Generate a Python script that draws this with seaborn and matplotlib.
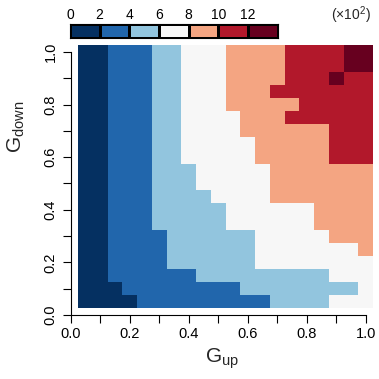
import numpy as np
import pandas as pd
import matplotlib
matplotlib.use("Agg")
import matplotlib.pyplot as plt
from matplotlib.colors import ListedColormap
import seaborn as sns

# ---- data (values in units of 10^2) ----
g_up = [0.05, 0.10, 0.15, 0.20, 0.25, 0.30, 0.35, 0.40, 0.45, 0.50,
        0.55, 0.60, 0.65, 0.70, 0.75, 0.80, 0.85, 0.90, 0.95, 1.00]
# rows from Gdown = 1.00 (top) down to Gdown = 0.05 (bottom)
g_down = [1.00, 0.95, 0.90, 0.85, 0.80, 0.75, 0.70, 0.65, 0.60, 0.55,
          0.50, 0.45, 0.40, 0.35, 0.30, 0.25, 0.20, 0.15, 0.10, 0.05]
values = [
    [1, 1, 3, 3, 3, 5, 5, 7, 7, 7, 9, 9, 9, 9, 11, 11, 11, 11, 13, 13],
    [1, 1, 3, 3, 3, 5, 5, 7, 7, 7, 9, 9, 9, 9, 11, 11, 11, 11, 13, 13],
    [1, 1, 3, 3, 3, 5, 5, 7, 7, 7, 9, 9, 9, 9, 11, 11, 11, 13, 11, 11],
    [1, 1, 3, 3, 3, 5, 5, 7, 7, 7, 9, 9, 9, 11, 11, 11, 11, 11, 11, 11],
    [1, 1, 3, 3, 3, 5, 5, 7, 7, 7, 9, 9, 9, 9, 9, 11, 11, 11, 11, 11],
    [1, 1, 3, 3, 3, 5, 5, 7, 7, 7, 7, 9, 9, 9, 11, 11, 11, 11, 11, 11],
    [1, 1, 3, 3, 3, 5, 5, 7, 7, 7, 7, 9, 9, 9, 9, 9, 9, 11, 11, 11],
    [1, 1, 3, 3, 3, 5, 5, 7, 7, 7, 7, 7, 9, 9, 9, 9, 9, 11, 11, 11],
    [1, 1, 3, 3, 3, 5, 5, 7, 7, 7, 7, 7, 9, 9, 9, 9, 9, 11, 11, 11],
    [1, 1, 3, 3, 3, 5, 5, 5, 7, 7, 7, 7, 7, 9, 9, 9, 9, 9, 9, 9],
    [1, 1, 3, 3, 3, 5, 5, 5, 7, 7, 7, 7, 7, 9, 9, 9, 9, 9, 9, 9],
    [1, 1, 3, 3, 3, 5, 5, 5, 5, 7, 7, 7, 7, 9, 9, 9, 9, 9, 9, 9],
    [1, 1, 3, 3, 3, 5, 5, 5, 5, 5, 7, 7, 7, 7, 7, 7, 9, 9, 9, 9],
    [1, 1, 3, 3, 3, 5, 5, 5, 5, 5, 7, 7, 7, 7, 7, 7, 9, 9, 9, 9],
    [1, 1, 3, 3, 3, 3, 5, 5, 5, 5, 5, 5, 7, 7, 7, 7, 7, 9, 9, 9],
    [1, 1, 3, 3, 3, 3, 5, 5, 5, 5, 5, 5, 7, 7, 7, 7, 7, 7, 7, 9],
    [1, 1, 3, 3, 3, 3, 5, 5, 5, 5, 5, 5, 7, 7, 7, 7, 7, 7, 7, 7],
    [1, 1, 3, 3, 3, 3, 3, 3, 5, 5, 5, 5, 5, 5, 5, 5, 5, 7, 7, 7],
    [1, 1, 1, 3, 3, 3, 3, 3, 3, 3, 3, 5, 5, 5, 5, 5, 5, 5, 5, 7],
    [1, 1, 1, 1, 3, 3, 3, 3, 3, 3, 3, 3, 3, 5, 5, 5, 5, 7, 7, 7],
]
level_mid = [1, 3, 5, 7, 9, 11, 13]
level_labels = ["0", "2", "4", "6", "8", "10", "12"]
axis_ticks = [0.0, 0.1, 0.2, 0.3, 0.4, 0.5, 0.6, 0.7, 0.8, 0.9, 1.0]
axis_labels = ["0.0", "", "0.2", "", "0.4", "", "0.6", "", "0.8", "", "1.0"]
colors = ["#053061", "#2166ac", "#92c5de", "#f7f7f7", "#f4a582", "#b2182b", "#67001f"]

sns.set_theme(style="white")
plt.rcParams["font.family"] = ["Liberation Sans", "DejaVu Sans"]
plt.rcParams["mathtext.default"] = "regular"

cmap = ListedColormap(colors)
df = pd.DataFrame(values, index=g_down, columns=g_up)

W = 379.0
fig = plt.figure(figsize=(3.79, 3.79), dpi=100)
ax = fig.add_axes([70.7 / W, (W - 315) / W, 302.4 / W, (315 - 45.4) / W])
sns.heatmap(df, ax=ax, cmap=cmap, vmin=0, vmax=14, cbar=False,
            xticklabels=False, yticklabels=False)

step = g_up[1] - g_up[0]
def to_col(v):
    return (v - g_up[0]) / step + 0.5
def to_row(v):
    return (g_down[0] - v) / step + 0.5

ax.set_xlim(to_col(0.0), to_col(1.025))
ax.set_ylim(to_row(0.0), to_row(1.025))
ax.set_xticks([to_col(v) for v in axis_ticks])
ax.set_xticklabels(axis_labels)
ax.set_yticks([to_row(v) for v in axis_ticks])
ax.set_yticklabels(axis_labels, rotation=90, va="center")
for s in ["left", "bottom"]:
    ax.spines[s].set_visible(True)
    ax.spines[s].set_color("black")
    ax.spines[s].set_linewidth(0.8)
for s in ["top", "right"]:
    ax.spines[s].set_visible(False)
ax.spines["bottom"].set_bounds(to_col(0.0), to_col(1.0))
ax.spines["left"].set_bounds(to_row(0.0), to_row(1.0))
ax.tick_params(axis="both", direction="out", length=5.5, width=0.8, colors="black",
               labelsize=10.5, bottom=True, left=True, top=False, right=False)
ax.tick_params(axis="x", pad=3)
ax.tick_params(axis="y", pad=4)
ax.set_xlabel(r"$G_{up}$", fontsize=15, labelpad=4)
ax.set_ylabel(r"$G_{down}$", fontsize=15, labelpad=9)
ax.yaxis.set_label_coords(-0.143, 0.70)

# ---- colour key on top ----
cax = fig.add_axes([70 / W, 1 - 37.7 / W, 207.7 / W, 13.4 / W])
sns.heatmap(pd.DataFrame([level_mid]), ax=cax, cmap=cmap, vmin=0, vmax=14, cbar=False,
            linewidths=0.8, linecolor="black", xticklabels=False, yticklabels=False)
for s in cax.spines.values():
    s.set_visible(True)
    s.set_color("black")
    s.set_linewidth(0.8)
cax.set_xticks(range(len(level_labels)))
cax.set_xticklabels(level_labels)
cax.xaxis.tick_top()
cax.tick_params(axis="x", length=0, labelsize=10, pad=2, colors="black", top=True, bottom=False)
cax.set_yticks([])
fig.text(351 / W, 1 - 15.5 / W, r"$(\times 10^{2})$", ha="center", va="center", fontsize=10)

fig.savefig("out.png", dpi=100)
